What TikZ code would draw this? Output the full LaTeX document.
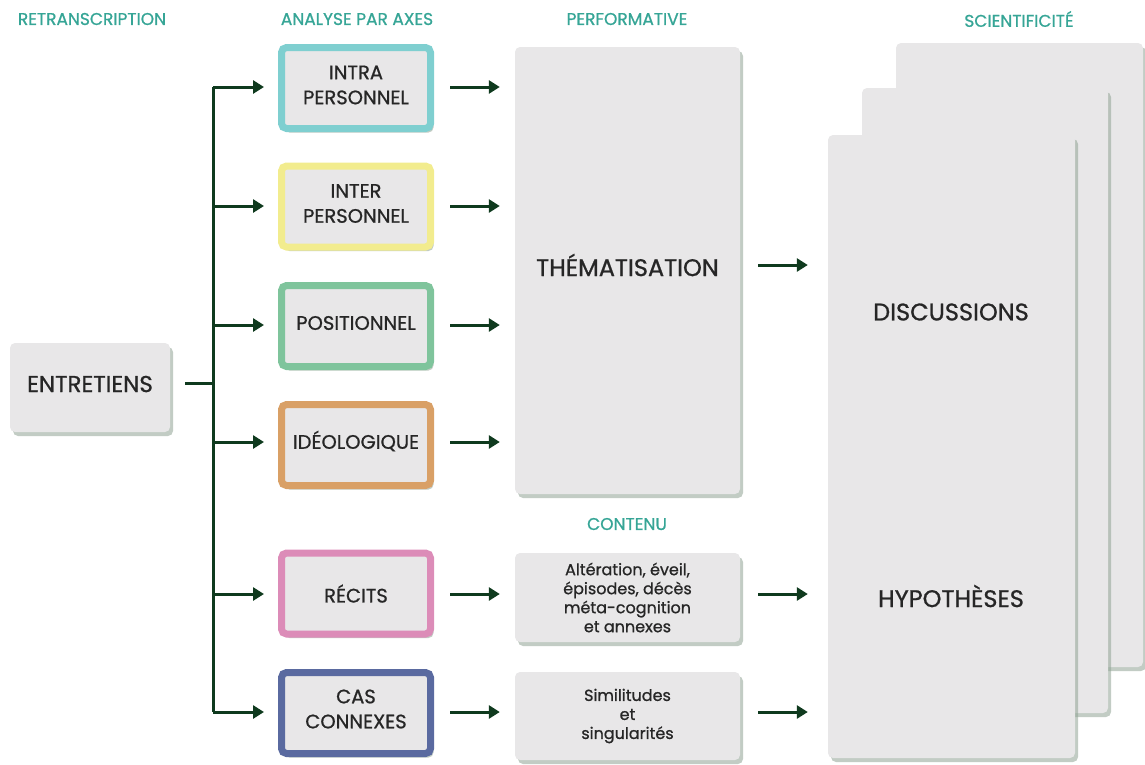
\documentclass[tikz,border=0pt]{standalone}
\usepackage{fontspec}
\setmainfont{Poppins}[UprightFeatures={FakeBold=0.9}]
\usetikzlibrary{shadows,arrows.meta}
\definecolor{teal}{HTML}{36A596}
\definecolor{boxg}{HTML}{E8E7E8}
\definecolor{shd}{HTML}{8FA293}
\definecolor{arr}{HTML}{0F3A1E}
\definecolor{txt}{HTML}{262626}
\definecolor{cintra}{HTML}{7FCFD0}
\definecolor{cinter}{HTML}{F2EC8E}
\definecolor{cpos}{HTML}{7FC49C}
\definecolor{cideo}{HTML}{D9A066}
\definecolor{crec}{HTML}{DC8CB8}
\definecolor{ccas}{HTML}{5A6AA0}
\tikzset{
  head/.style={text=teal, font=\fontsize{17}{20}\selectfont},
  graybox/.style={fill=boxg, rounded corners=5pt, inner sep=0pt, text=txt,
    drop shadow={shadow xshift=3pt, shadow yshift=-4pt, fill=shd, opacity=0.55}},
  axis/.style={graybox, draw=#1, line width=7pt, minimum width=149pt, minimum height=81pt},
  lab/.style={text=txt, align=center, inner sep=0pt, font=\fontsize{19.5}{25}\selectfont},
  big/.style={text=txt, font=\fontsize{24}{28}\selectfont},
  small/.style={graybox, minimum width=225pt, align=center, font=\fontsize{16}{19}\selectfont},
  flow/.style={draw=arr, line width=3pt, -{Triangle[length=11pt,width=13pt]}},
  trunk/.style={draw=arr, line width=3pt},
}
\begin{document}
\begin{tikzpicture}[x=1pt,y=-1pt]
\useasboundingbox (0,0) rectangle (1145,764);
% headers
\node[head] (h1) at (92,19) {RETRANSCRIPTION};
\node[head] (h2) at (357,19) {ANALYSE PAR AXES};
\node[head] (h3) at (627,19) {PERFORMATIVE};
\node[head] (h4) at (1019,19) {SCIENTIFICITÉ};
\node[head] (h5) at (627,524) {CONTENU};
% entretiens
\node[graybox, minimum width=160pt, minimum height=89pt] (ent) at (90,387.5) {};
\node[text=txt, font=\fontsize{23}{26}\selectfont] (entt) at (90,384) {ENTRETIENS};
% axes
\node[axis=cintra] (a1) at (356,88) {};
\node[axis=cinter] (a2) at (356,206.5) {};
\node[axis=cpos] (a3) at (356,326) {};
\node[axis=cideo] (a4) at (356,445) {};
\node[axis=crec] (a5) at (356,593.5) {};
\node[axis=ccas] (a6) at (356,713) {};
\node[lab] (l1) at ([yshift=3pt]a1.center) {INTRA\\PERSONNEL};
\node[lab] (l2) at ([yshift=3pt]a2.center) {INTER\\PERSONNEL};
\node[lab] (l3) at ([yshift=3pt]a3.center) {POSITIONNEL};
\node[lab] (l4) at ([yshift=4pt]a4.center) {IDÉOLOGIQUE};
\node[lab] (l5) at ([yshift=0pt]a5.center) {RÉCITS};
\node[lab] (l6) at ([yshift=4pt]a6.center) {CAS\\CONNEXES};
% performative
\node[graybox, minimum width=225pt, minimum height=447pt] (them) at (627.5,270.5) {};
\node[big] (themt) at (627.5,265) {THÉMATISATION};
\node[small, minimum height=89pt] (c1) at (627.5,597.5) {Altération, éveil,\\épisodes, décès\\méta-cognition\\et annexes};
\node[small, minimum height=88pt] (c2) at (627.5,716) {Similitudes\\et\\singularités};
% stack
\node[graybox, minimum width=247pt, minimum height=624pt] (s3) at (1019.5,355) {};
\node[graybox, minimum width=246pt, minimum height=625pt] (s2) at (985,400.5) {};
\node[graybox, minimum width=247pt, minimum height=623pt] (s1) at (951.5,446.5) {};
\node[big] (disc) at (951,312) {DISCUSSIONS};
\node[big] (hyp) at (951,596) {HYPOTHÈSES};
% trunk
\coordinate (j) at (213,383);
\coordinate (t1) at (213,87);
\coordinate (t2) at (213,206);
\coordinate (t3) at (213,325);
\coordinate (t4) at (213,442);
\coordinate (t5) at (213,594);
\coordinate (t6) at (213,712);
\draw[trunk] ([xshift=15pt]ent.east |- j) -- (j);
\draw[trunk] (t1) -- (t6);
\foreach \i in {1,...,6}{
  \draw[flow, shorten >=14pt] (t\i) -- (t\i -| a\i.west);
}
\foreach \i in {1,2,3,4}{
  \draw[flow, shorten <=16pt, shorten >=15pt] (t\i -| a\i.east) -- (t\i -| them.west);
}
\draw[flow, shorten <=16pt, shorten >=15pt] (t5 -| a5.east) -- (t5 -| c1.west);
\draw[flow, shorten <=16pt, shorten >=15pt] (t6 -| a6.east) -- (t6 -| c2.west);
\coordinate (m1) at (740,265);
\draw[flow, shorten <=18pt, shorten >=20pt] (m1) -- (m1 -| s1.west);
\draw[flow, shorten <=18pt, shorten >=20pt] (t5 -| c1.east) -- (t5 -| s1.west);
\draw[flow, shorten <=18pt, shorten >=20pt] (t6 -| c2.east) -- (t6 -| s1.west);
\end{tikzpicture}
\end{document}
